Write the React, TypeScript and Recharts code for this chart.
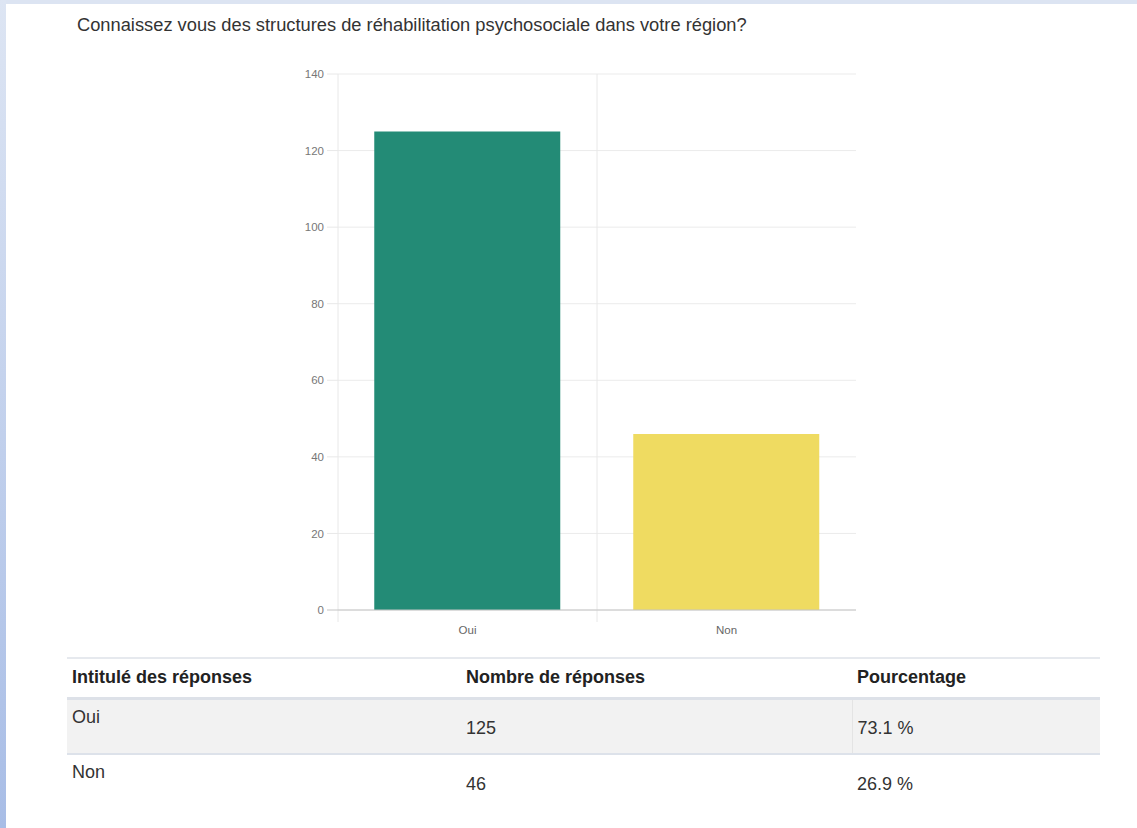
import React from "react"
import { BarChart, Bar, Cell, XAxis, YAxis, CartesianGrid, ReferenceLine, usePlotArea } from "recharts"

const categories = ["Oui", "Non"]
const counts = [125, 46]
const percents = ["73.1 %", "26.9 %"]
const barColors = ["#238b76", "#efdb61"]
const yTicks = [0, 20, 40, 60, 80, 100, 120, 140]
const title = "Connaissez vous des structures de réhabilitation psychosociale dans votre région?"
const headers = ["Intitulé des réponses", "Nombre de réponses", "Pourcentage"]

const data = categories.map((name, i) => ({ name, value: counts[i] }))

const FONT = "'Liberation Sans', Arial, sans-serif"

// boundary lines between categories, running a bit below the baseline
function CategoryDividers() {
  const plot = usePlotArea()
  if (!plot) return null
  const xs = [plot.x, plot.x + plot.width / 2]
  return (
    <g>
      {xs.map((x) => (
        <line key={x} x1={x} x2={x} y1={plot.y} y2={plot.y + plot.height + 12} stroke="#e8e8e8" strokeWidth={1} />
      ))}
    </g>
  )
}

function YTick(props: any) {
  const { x, y, payload } = props
  const zero = payload.value === 0
  return (
    <g>
      <line x1={x + 3} x2={x + 14} y1={y} y2={y} stroke={zero ? "#c4c4c4" : "#e8e8e8"} />
      <text x={x} y={y} dy="0.355em" textAnchor="end" fontSize={11.5} fill="#777" fontFamily={FONT}>
        {payload.value}
      </text>
    </g>
  )
}

export default function App() {
  const cellBase: React.CSSProperties = { padding: "0 5px", textAlign: "left", fontSize: 18 }
  return (
    <div
      style={{
        position: "absolute",
        left: 0,
        top: 0,
        width: 1137,
        height: 828,
        background: "#dce4f2",
        fontFamily: FONT,
        overflow: "hidden",
      }}
    >
      <div
        style={{
          position: "absolute",
          left: 0,
          top: 0,
          width: 6,
          height: 828,
          background: "linear-gradient(#dde5f3, #a8bde6)",
        }}
      />
      <div style={{ position: "absolute", left: 6, top: 4, right: 0, bottom: 0, background: "#fff" }} />
      <div style={{ position: "absolute", left: 77, top: 14, fontSize: 18.3, color: "#333", whiteSpace: "nowrap" }}>
        {title}
      </div>
      <div style={{ position: "absolute", left: 0, top: 0 }}>
        <BarChart
          width={1137}
          height={650}
          data={data}
          margin={{ top: 74, right: 281, bottom: 10, left: 278 }}
          barCategoryGap="14%"
        >
          <CartesianGrid vertical={false} stroke="#ebebeb" />
          <CategoryDividers />
          <YAxis
            width={60}
            domain={[0, 140]}
            ticks={yTicks}
            axisLine={false}
            tickLine={false}
            tickSize={12}
            tickMargin={2}
            tick={<YTick />}
          />
          <XAxis
            dataKey="name"
            height={30}
            axisLine={false}
            tickLine={false}
            tickSize={0}
            tickMargin={16}
            tick={{ fontSize: 11.5, fill: "#666", fontFamily: FONT }}
          />
          <ReferenceLine y={0} stroke="#c4c4c4" />
          <Bar dataKey="value" isAnimationActive={false}>
            {data.map((d, i) => (
              <Cell key={d.name} fill={barColors[i]} />
            ))}
          </Bar>
        </BarChart>
      </div>
      <table
        style={{
          position: "absolute",
          left: 67,
          top: 657,
          width: 1033,
          tableLayout: "fixed",
          borderCollapse: "collapse",
          color: "#333",
          fontFamily: FONT,
        }}
      >
        <colgroup>
          <col style={{ width: 394 }} />
          <col style={{ width: 391 }} />
          <col style={{ width: 248 }} />
        </colgroup>
        <thead>
          <tr style={{ height: 40, borderTop: "2px solid #e6e9ee", borderBottom: "3px solid #dde1e8" }}>
            {headers.map((h) => (
              <th key={h} style={{ ...cellBase, fontWeight: "bold", color: "#222", verticalAlign: "middle" }}>
                {h}
              </th>
            ))}
          </tr>
        </thead>
        <tbody>
          {categories.map((c, i) => (
            <tr
              key={c}
              style={{
                height: 56,
                background: i === 0 ? "#f2f2f2" : "#fff",
                borderBottom: i === 0 ? "2px solid #dde2ea" : "none",
              }}
            >
              <td style={{ ...cellBase, verticalAlign: "top", paddingTop: 7 }}>{c}</td>
              <td style={{ ...cellBase, verticalAlign: "middle", paddingTop: 4 }}>{counts[i]}</td>
              <td
                style={{
                  ...cellBase,
                  verticalAlign: "middle",
                  paddingTop: 4,
                  borderLeft: i === 0 ? "1px solid #e4e4e4" : "none",
                }}
              >
                {percents[i]}
              </td>
            </tr>
          ))}
        </tbody>
      </table>
    </div>
  )
}
